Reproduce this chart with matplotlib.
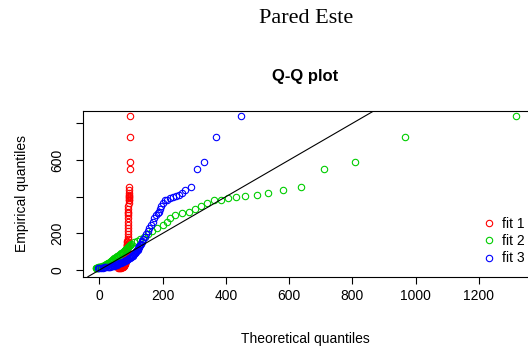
import matplotlib
matplotlib.use("Agg")
import matplotlib.pyplot as plt

# Sorted observations (empirical quantiles)
empirical = [10, 11, 12, 13, 14, 15, 16, 17, 18, 19, 20, 21, 22, 24, 26, 28, 30, 32, 34, 36,
             38, 40, 42, 45, 48, 51, 54, 57, 60, 63, 66, 69, 72, 75, 79, 83, 87, 91, 95, 99,
             103, 107, 111, 115, 119, 123, 127, 131, 135, 138,
             142, 150, 160, 170, 182, 196, 210,
             227, 245, 262, 282, 300, 309, 318, 330, 349, 364,
             379, 384, 390, 398, 405, 411, 422, 434, 454, 550, 591, 725, 842]

# Theoretical quantiles of each fitted distribution
fit1_theo = [60, 63, 65, 67, 69, 70, 71, 72, 73, 74, 75, 76, 76.5, 77, 78, 78.5, 79, 79.5, 80, 80.5,
             81, 81.3, 81.6, 82, 82.3, 82.6, 83, 83.3, 83.6, 84, 84.2, 84.4, 84.6, 84.8, 85, 85.2, 85.4, 85.6, 85.8, 86,
             86.2, 86.4, 86.6, 86.8, 87, 87.2, 87.4, 87.6, 87.8, 88,
             88.2, 88.4, 88.6, 88.8, 89, 89.2, 89.4,
             89.6, 89.8, 90, 90.3, 90.6, 90.9, 91.2, 91.5, 91.8, 92.1,
             92.4, 92.7, 93, 93.3, 93.6, 93.9, 94.2, 94.5, 94.8, 95.5, 96, 96.5, 97]

fit2_theo = [-12, -10, -8, -6, -4, -2, 0, 2, 4, 6, 8, 10, 12, 14, 16, 18, 20, 22, 24, 26,
             28, 30, 32, 34, 36, 38, 40, 42, 44, 47, 50, 52, 55, 57, 60, 63, 66, 69, 72, 74,
             77, 80, 82, 85, 87, 89, 91, 93, 95, 97,
             99, 108, 118, 128, 140, 152, 166,
             181, 202, 212, 223, 239, 260, 282, 303, 321, 340,
             361, 384, 408, 433, 461, 498, 533, 579, 636, 711, 808, 967, 1317]

fit3_theo = [-5, 0, 5, 10, 14, 18, 22, 26, 30, 33, 36, 39, 42, 45, 48, 51, 54, 57, 60, 63,
             66, 69, 72, 75, 78, 81, 84, 87, 90, 93, 96, 99, 101, 103, 105, 107, 109, 111, 113, 115,
             117, 119, 121, 122, 123, 124, 125, 126, 127, 128,
             130, 133, 136, 139, 143, 147, 152,
             158, 163, 168, 174, 180, 184, 188, 192, 196, 200,
             207, 214, 222, 232, 242, 253, 262, 272, 289, 307, 332, 368, 449]

series_labels = ["fit 1", "fit 2", "fit 3"]
series_colors = ["#FF0000", "#00CD00", "#0000FF"]

x_ticks = [0, 200, 400, 600, 800, 1000, 1200]
y_ticks = [0, 200, 400, 600, 800]
y_tick_labels = ["0", "200", "", "600", ""]

SANS = ["Liberation Sans", "DejaVu Sans"]
SERIF = ["Liberation Serif", "DejaVu Serif"]
plt.rcParams["font.family"] = SANS

W, H = 528, 352
fig = plt.figure(figsize=(W / 100, H / 100), dpi=100)
fig.patch.set_facecolor("white")

left_px, right_px, top_px, bottom_px = 82.7, 528.0, 111.0, 276.7
ax = fig.add_axes([left_px / W, (H - bottom_px) / H,
                   (right_px - left_px) / W, (bottom_px - top_px) / H])

for theo, col, lab in zip([fit1_theo, fit2_theo, fit3_theo], series_colors, series_labels):
    ax.plot(theo, empirical, linestyle="none", marker="o", markersize=4.6,
            markerfacecolor="none", markeredgecolor=col, markeredgewidth=0.8, label=lab)

ax.axline((0, 0), slope=1, color="black", linewidth=0.8)

ax.set_xlim(-53, 1355)
ax.set_ylim(-36.5, 867)

ax.set_xticks(x_ticks)
ax.set_xticklabels([str(v) for v in x_ticks])
ax.set_yticks(y_ticks)
ax.set_yticklabels(y_tick_labels, rotation=90, va="center")

ax.tick_params(axis="both", direction="out", length=5, width=0.8,
               labelsize=10, color="black")
ax.tick_params(axis="x", pad=4)
ax.tick_params(axis="y", pad=8)
for side in ["left", "bottom", "top"]:
    ax.spines[side].set_linewidth(0.8)
ax.spines["right"].set_visible(False)

leg = ax.legend(loc="center left", bbox_to_anchor=(483.5 / W, (H - 241) / H),
                bbox_transform=fig.transFigure, frameon=False, fontsize=10,
                borderpad=0, borderaxespad=0, handlelength=0.8,
                handletextpad=0.55, labelspacing=0.25)

# Titles and axis labels
fig.text(306 / W, 1 - 18.5 / H, "Pared Este", family=SERIF, fontsize=16,
         ha="center", va="center")
fig.text(305 / W, 1 - 76.5 / H, "Q-Q plot", fontsize=12, fontweight="bold",
         ha="center", va="center")
fig.text(305 / W, 1 - 339 / H, "Theoretical quantiles", fontsize=10,
         ha="center", va="center")
fig.text(22 / W, 1 - 194 / H, "Empirical quantiles", fontsize=10,
         ha="center", va="center", rotation=90)

fig.savefig("out.png", dpi=100, facecolor="white")
